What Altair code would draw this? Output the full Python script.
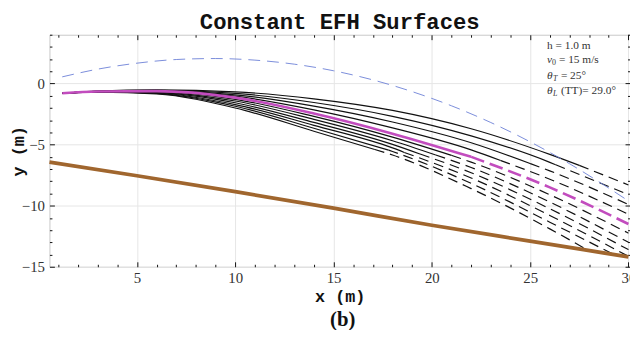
import altair as alt
import pandas as pd

# ---------------- values ----------------
# family of constant-EFH landing surfaces (top curve first)
X_GRID = [1.2, 3, 6, 10, 14, 18, 22, 26]
CURVE_Y = [
    [-0.80, -0.62, -0.52, -0.68, -1.25, -2.20, -3.70, -5.80],
    [-0.80, -0.63, -0.545, -0.80, -1.55, -2.68, -4.28, -6.45],
    [-0.80, -0.63, -0.57, -0.92, -1.85, -3.15, -4.85, -7.15],
    [-0.80, -0.64, -0.595, -1.03, -2.15, -3.63, -5.43, -7.83],
    [-0.80, -0.65, -0.62, -1.15, -2.45, -4.10, -6.00, -8.50],
    [-0.80, -0.66, -0.66, -1.29, -2.69, -4.39, -6.43, -9.10],
    [-0.80, -0.67, -0.70, -1.43, -2.93, -4.68, -6.87, -9.70],
    [-0.80, -0.67, -0.74, -1.57, -3.18, -4.98, -7.30, -10.25],
    [-0.80, -0.68, -0.77, -1.72, -3.42, -5.27, -7.73, -10.80],
    [-0.80, -0.69, -0.81, -1.86, -3.66, -5.56, -8.17, -11.35],
    [-0.80, -0.70, -0.85, -2.00, -3.90, -5.85, -8.60, -11.90],
]
END_X = [30, 30, 30, 30, 30, 30, 30, 30, 30, 29.2, 28.0]
END_Y = [-8.3, -9.1, -9.9, -10.7, -11.5, -12.25, -13.0, -13.6, -14.15, -13.95, -13.7]
# where each curve changes from solid to dashed
SPLIT_X = [27.5, 26.3, 25.0, 23.5, 22.0, 21.0, 20.2, 19.4, 18.6, 17.8, 17.1]
SPLIT_Y = [-6.7, -6.65, -6.55, -6.3, -6.0, -5.88, -5.85, -5.77, -5.64, -5.45, -5.4]
HIGHLIGHT = 4  # magenta curve

# jumper trajectory (blue dashed)
TRAJ_X = [1.2, 3, 5, 7, 9, 11, 13, 15, 17, 19, 21, 23, 25, 27, 29, 30]
TRAJ_Y = [0.55, 1.18, 1.67, 1.97, 2.05, 1.92, 1.59, 1.05, 0.30, -0.66,
          -1.82, -3.19, -4.77, -6.56, -8.56, -9.61]

# ground (brown)
GROUND_X = [0.55, 5, 10, 15, 20, 25, 30]
GROUND_Y = [-6.43, -7.55, -8.85, -10.2, -11.6, -12.9, -14.2]

X_TICKS = list(range(1, 31))
Y_TICKS = list(range(-15, 5))
X_DOMAIN = [0.55, 30.08]
Y_DOMAIN = [-15, 4]

TITLE = "Constant EFH Surfaces"
X_TITLE = "x (m)"
Y_TITLE = "y (m)"
PANEL = "(b)"

# ---------------- tables ----------------
rows = []
for i, ys in enumerate(CURVE_Y):
    pts = list(zip(X_GRID, ys)) + [(END_X[i], END_Y[i])]
    sp = (SPLIT_X[i], SPLIT_Y[i])
    solid = [p for p in pts if p[0] < sp[0]] + [sp]
    dashed = [sp] + [p for p in pts if p[0] > sp[0]]
    for seg, lst in (("solid", solid), ("dashed", dashed)):
        for x, y in lst:
            rows.append({"curve": i, "seg": seg, "x": x, "y": y})
curves = pd.DataFrame(rows)
traj = pd.DataFrame({"x": TRAJ_X, "y": TRAJ_Y})
ground = pd.DataFrame({"x": GROUND_X, "y": GROUND_Y})

W, H = 588, 235
MAJOR = "datum.value % 5 === 0"
XS = alt.Scale(domain=X_DOMAIN, nice=False, zero=False)
YS = alt.Scale(domain=Y_DOMAIN, nice=False, zero=False)

x_axis = alt.Axis(
    orient="bottom", values=X_TICKS, title=X_TITLE,
    labelExpr=f"{MAJOR} ? datum.label : ''", labelOverlap=False, labelFlush=False,
    tickSize=alt.ExprRef(f"{MAJOR} ? -5 : -2.5"), labelPadding=9,
    grid=True, gridOpacity={"condition": {"test": MAJOR, "value": 1}, "value": 0},
    titleFont="Liberation Mono", titleFontSize=17, titleFontWeight="bold",
    titleColor="#111", titleX=W / 2, titleY=30, titleBaseline="middle", titleAlign="center",
)
y_axis = alt.Axis(
    orient="left", values=Y_TICKS, title=Y_TITLE,
    labelExpr=f"{MAJOR} ? datum.label : ''", labelOverlap=False, labelFlush=False,
    tickSize=alt.ExprRef(f"{MAJOR} ? -5 : -2.5"), labelPadding=10,
    grid=True, gridOpacity={"condition": {"test": MAJOR, "value": 1}, "value": 0},
    titleFont="Liberation Mono", titleFontSize=17, titleFontWeight="bold",
    titleColor="#111", titleX=-31, titleY=H / 2, titleAngle=270,
    titleBaseline="middle", titleAlign="center",
)
x_top = alt.Axis(orient="top", values=X_TICKS, labels=False, title=None, grid=False,
                 tickSize=alt.ExprRef(f"{MAJOR} ? -5 : -2.5"))
y_right = alt.Axis(orient="right", values=Y_TICKS, labels=False, title=None, grid=False,
                   tickSize=alt.ExprRef(f"{MAJOR} ? -5 : -2.5"))


def lines(df, color, width, dash=None, detail=True):
    kw = dict(color=color, strokeWidth=width, interpolate="monotone")
    if dash:
        kw["strokeDash"] = dash
    enc = dict(
        x=alt.X("x:Q", scale=XS, axis=x_axis),
        y=alt.Y("y:Q", scale=YS, axis=y_axis),
        order=alt.Order("x:Q"),
    )
    if detail:
        enc["detail"] = "curve:N"
    return alt.Chart(df).mark_line(**kw).encode(**enc)


black = curves[curves.curve != HIGHLIGHT]
mag = curves[curves.curve == HIGHLIGHT]

layers = [
    lines(black[black.seg == "solid"], "#111111", 1.2),
    lines(black[black.seg == "dashed"], "#111111", 1.2, [10, 6]),
    lines(mag[mag.seg == "solid"], "#c24cbe", 2.6),
    lines(mag[mag.seg == "dashed"], "#c24cbe", 2.6, [14, 6]),
    lines(traj, "#6b7fd6", 0.9, [12, 7], detail=False),
    lines(ground, "#a0662e", 3.8, detail=False),
]


def txt(t, x, y, size=11.5, style="normal", weight="normal", align="left",
        font="Liberation Serif", color="#333333", baseline="middle"):
    return alt.Chart(pd.DataFrame({"t": [t]})).mark_text(
        font=font, fontSize=size, fontStyle=style, fontWeight=weight,
        align=align, baseline=baseline, color=color,
    ).encode(text="t:N", x=alt.value(x), y=alt.value(y))


LX = 504
layers += [
    txt("h = 1.0 m", LX, 11),
    txt("v", LX, 26, style="italic"),
    txt("0", LX + 5, 29, size=8),
    txt("= 15 m/s", LX + 12, 26),
    txt("θ", LX, 42, style="italic"),
    txt("T", LX + 6, 45, size=8, style="italic"),
    txt("= 25°", LX + 14, 42),
    txt("θ", LX, 57, style="italic"),
    txt("L", LX + 6, 60, size=8, style="italic"),
    txt("(TT)= 29.0°", LX + 14, 57),
    txt(PANEL, W / 2 + 3, H + 54, size=21, weight="bold", align="center", color="#111"),
    txt(TITLE, W / 2, -6, size=22.5, weight="bold", align="center", color="#111",
        font="Liberation Mono", baseline="alphabetic"),
]

main = alt.layer(*layers)
frame = alt.Chart(ground).mark_line(opacity=0).encode(
    x=alt.X("x:Q", scale=XS, axis=x_top),
    y=alt.Y("y:Q", scale=YS, axis=y_right),
)

chart = alt.layer(main, frame).resolve_scale(x="independent", y="independent").properties(
    width=W, height=H,
    autosize=alt.AutoSizeParams(type="none"),
    padding={"left": 42, "top": 25, "right": 0, "bottom": 62},
).configure_view(stroke="#c8c8c8", strokeWidth=1).configure_axis(
    domain=False, tickColor="#111", tickWidth=1, labelFont="Liberation Serif",
    labelFontSize=15, labelColor="#333333", gridColor="#e6e6e6", gridWidth=1,
)

chart.save("out.html", embed_options={"renderer": "svg", "actions": False})
